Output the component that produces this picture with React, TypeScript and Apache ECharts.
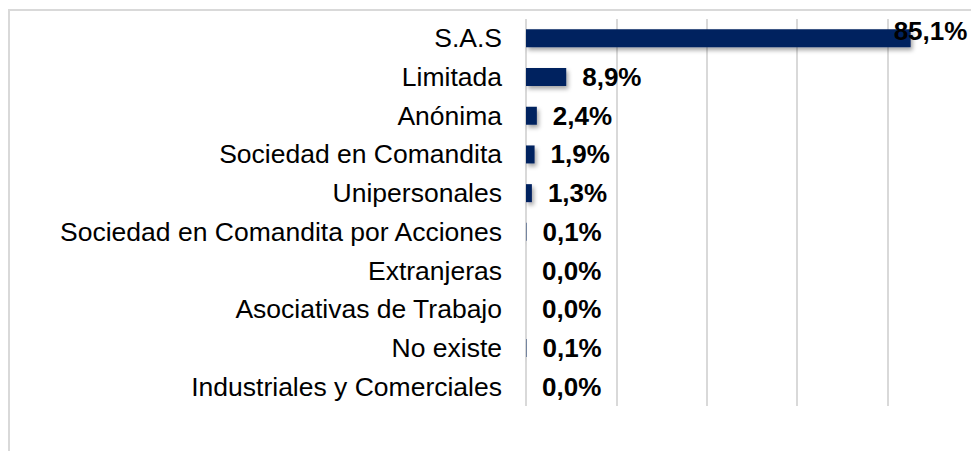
import React, { useEffect, useRef } from "react";
import * as echarts from "echarts";

const categories = [
  "S.A.S",
  "Limitada",
  "Anónima",
  "Sociedad en Comandita",
  "Unipersonales",
  "Sociedad en Comandita por Acciones",
  "Extranjeras",
  "Asociativas de Trabajo",
  "No existe",
  "Industriales y Comerciales",
];
const values = [85.1, 8.9, 2.4, 1.9, 1.3, 0.1, 0.0, 0.0, 0.1, 0.0];
const xTicks = [0, 20, 40, 60, 80, 100];

export default function App() {
  const ref = useRef<HTMLDivElement>(null);
  useEffect(() => {
    if (!ref.current) return;
    const chart = echarts.init(ref.current, null, { renderer: "svg" });
    const font = "'Liberation Sans', Arial, sans-serif";
    chart.setOption({
      animation: false,
      backgroundColor: "#ffffff",
      graphic: [
        {
          type: "rect",
          shape: { x: 9, y: 10, width: 1000, height: 500 },
          style: { fill: "none", stroke: "#d9d9d9", lineWidth: 2 },
          silent: true,
        },
      ],
      grid: { left: 526, right: 2, top: 19, bottom: 45, containLabel: false },
      xAxis: {
        type: "value",
        min: xTicks[0],
        max: xTicks[xTicks.length - 1],
        interval: 20,
        axisLabel: { show: false },
        axisLine: { show: false },
        axisTick: { show: false },
        splitLine: { show: true, lineStyle: { color: "#d9d9d9", width: 2 } },
      },
      yAxis: {
        type: "category",
        inverse: true,
        data: categories,
        axisLine: { show: false },
        axisTick: { show: false },
        axisLabel: {
          fontFamily: font,
          fontSize: 26.5,
          color: "#000000",
          margin: 24,
        },
      },
      series: [
        {
          type: "bar",
          data: values.map((v, i) =>
            i === 0
              ? { value: v, label: { offset: [-33, -7] } }
              : { value: v }
          ),
          barWidth: 18,
          itemStyle: {
            color: "#03205f",
            shadowColor: "rgba(0,0,0,0.35)",
            shadowBlur: 4,
            shadowOffsetX: 2,
            shadowOffsetY: 3,
          },
          label: {
            show: true,
            position: "right",
            distance: 16,
            fontFamily: font,
            fontSize: 26,
            fontWeight: "bold",
            color: "#000000",
            formatter: (p: any) => p.value.toFixed(1).replace(".", ",") + "%",
          },
        },
      ],
    });
    return () => chart.dispose();
  }, []);
  return (
    <div
      ref={ref}
      style={{ position: "fixed", left: 0, top: 0, width: 980, height: 451 }}
    />
  );
}
